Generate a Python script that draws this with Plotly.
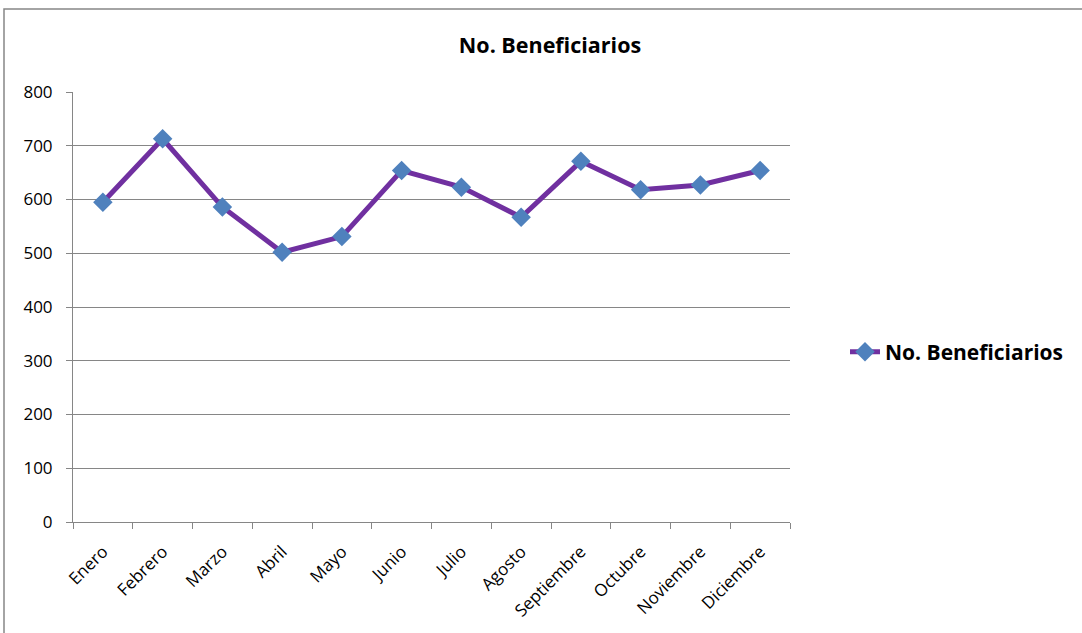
import plotly.graph_objects as go

months = ["Enero", "Febrero", "Marzo", "Abril", "Mayo", "Junio", "Julio",
          "Agosto", "Septiembre", "Octubre", "Noviembre", "Diciembre"]
beneficiarios = [595, 713, 586, 502, 531, 654, 623, 567, 671, 618, 627, 654]
series_name = "No. Beneficiarios"
y_ticks = [0, 100, 200, 300, 400, 500, 600, 700, 800]

W, H = 1082, 633
L, R, T, B = 73, 790, 92, 522
FONT = "Open Sans"

fig = go.Figure()
fig.add_trace(go.Scatter(
    x=months, y=beneficiarios, name=series_name, mode="lines+markers",
    line=dict(color="#7030A0", width=5),
    marker=dict(symbol="diamond", size=15, color="#4F81BD",
                line=dict(color="#4F81BD", width=0)),
))

grid = "#868686"
fig.update_layout(
    width=W, height=H,
    margin=dict(l=L, r=W - R, t=T, b=H - B, pad=0),
    paper_bgcolor="white", plot_bgcolor="white",
    font=dict(family=FONT, size=17, color="black"),
    title=dict(text="<b>No. Beneficiarios</b>", x=550 / W, xref="container",
               xanchor="center", y=1 - 45 / H, yref="container", yanchor="middle",
               font=dict(family=FONT, size=21.5, color="black")),
    showlegend=True,
    legend=dict(x=(845 - L) / (R - L), xanchor="left", y=(B - 352) / (B - T), yanchor="middle",
                font=dict(family=FONT, size=21, color="black", weight="bold"),
                bgcolor="rgba(0,0,0,0)", borderwidth=0),
    xaxis=dict(type="category", range=[-0.5, 11.5], showgrid=False,
               showline=True, linecolor=grid, linewidth=1,
               ticks="outside", tickson="boundaries", ticklen=6, tickcolor=grid,
               tickangle=-45, ticklabelstandoff=12,
               tickfont=dict(family=FONT, size=17, color="black")),
    yaxis=dict(range=[0, 800], tickvals=y_ticks, showgrid=True, gridcolor=grid, gridwidth=1,
               showline=True, linecolor=grid, linewidth=1, zeroline=False,
               ticks="outside", ticklen=6, tickcolor=grid, ticklabelstandoff=10,
               tickfont=dict(family=FONT, size=17, color="black")),
    shapes=[dict(type="rect", xref="paper", yref="paper",
                 x0=(4 - L) / (R - L), x1=1.6, y0=-0.6, y1=(B - 9) / (B - T),
                 line=dict(color=grid, width=1.5), fillcolor="rgba(0,0,0,0)", layer="below")],
)

fig.write_html("out.html", config={"displayModeBar": False},
               post_script="document.body.style.margin='0px';")
